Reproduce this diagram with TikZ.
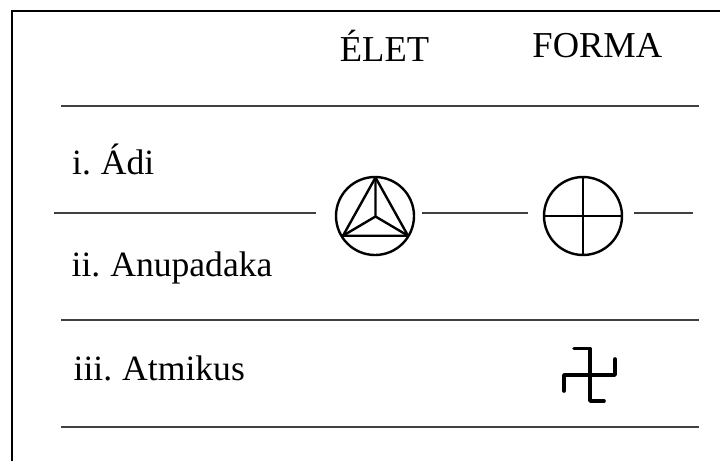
\documentclass[tikz,border=0pt]{standalone}
\usepackage{fontspec}
\setmainfont{Liberation Serif}
\newcommand{\labfontcmd}{\fontsize{35.6}{36}\selectfont\spaceskip 7pt\relax}
\tikzset{
  rulel/.style={draw=black!75,line width=1.3pt},
  sym/.style={draw=black,line width=2.4pt},
  symcirc/.style={circle,draw=black,line width=2.4pt,minimum size=78pt,inner sep=0pt},
  lab/.style={font=\labfontcmd,inner sep=0pt,anchor=base west},
  head/.style={font=\fontsize{36.5}{36.5}\selectfont,inner sep=0pt,anchor=base}
}
\begin{document}
\begin{tikzpicture}[x=1pt,y=-1pt]
\useasboundingbox (0,0) rectangle (720,461);
\fill[white] (0,0) rectangle (720,461);
% frame
\coordinate (fa) at (11.5,461);
\coordinate (fb) at (11.5,10.5);
\coordinate (fc) at (720,10.5);
\draw[black,line width=2pt] (fa) -- (fb) -- (fc);
% heads
\node[head] (elet) at (384.5,61) {ÉLET};
\node[head] (forma) at (597.4,57.5) {FORMA};
% labels
\node[lab] (adi) at (72,174) {i. Ádi};
\node[lab] (anu) at (71.5,276) {ii. Anupadaka};
\node[lab] (atm) at (73.5,380) {iii. Atmikus};
% rules
\coordinate (r1a) at (61,106); \coordinate (r1b) at (699,106);
\coordinate (r3a) at (61,320); \coordinate (r3b) at (699,320);
\coordinate (r4a) at (61,427); \coordinate (r4b) at (699,427);
\draw[rulel] (r1a) -- (r1b);
\draw[rulel] (r3a) -- (r3b);
\draw[rulel] (r4a) -- (r4b);
% symbols
\node[symcirc] (c1) at (375,216) {};
\node[symcirc] (c2) at (583,216) {};
% middle rule
\coordinate (m1) at (54,213); \coordinate (m2) at (316,213);
\coordinate (m3) at (422,213); \coordinate (m4) at (528,213);
\coordinate (m5) at (634,213); \coordinate (m6) at (693,213);
\draw[rulel] (m1) -- (m2);
\draw[rulel] (m3) -- (m4);
\draw[rulel] (m5) -- (m6);
% triangle
\coordinate (ta) at (375.5,177.5);
\coordinate (tb) at (343,235.7);
\coordinate (tc) at (408,235.7);
\coordinate (to) at (375.5,216.5);
\draw[sym,line join=round] (ta) -- (tb) -- (tc) -- cycle;
\draw[sym] (ta) -- (to) (tb) -- (to) -- (tc);
% cross
\draw[sym] (c2.north) -- (c2.south) (c2.west) -- (c2.east);
% swastika
\coordinate (s1) at (574,348.5);
\coordinate (s2) at (590,348.5);
\coordinate (s3) at (590,401);
\coordinate (s4) at (604,401);
\coordinate (s5) at (564,391);
\coordinate (s6) at (564,375);
\coordinate (s7) at (615,375);
\coordinate (s8) at (615,359);
\draw[black,line width=3.6pt,line cap=round,line join=round] (s1) -- (s2) -- (s3) -- (s4);
\draw[black,line width=3.6pt,line cap=round,line join=round] (s5) -- (s6) -- (s7) -- (s8);
\end{tikzpicture}
\end{document}
